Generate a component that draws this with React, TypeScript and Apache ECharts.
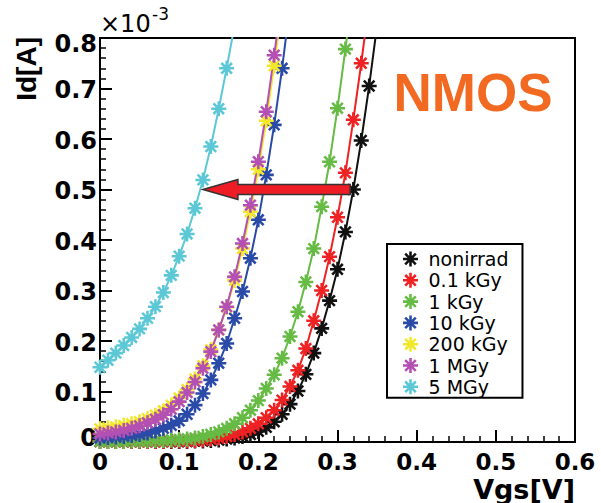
import React, { useEffect, useRef } from 'react';
import * as echarts from 'echarts';

// ---- data ----
const VGS = [
  0.00, 0.01, 0.02, 0.03, 0.04, 0.05, 0.06, 0.07, 0.08, 0.09,
  0.10, 0.11, 0.12, 0.13, 0.14, 0.15, 0.16, 0.17, 0.18, 0.19,
  0.20, 0.21, 0.22, 0.23, 0.24, 0.25, 0.26, 0.27, 0.28, 0.29,
  0.30, 0.31, 0.32, 0.33, 0.34, 0.35,
];

const SERIES_NAMES = ['nonirrad', '0.1 kGy', '1 kGy', '10 kGy', '200 kGy', '1 MGy', '5 MGy'];

const ID_NONIRRAD = [
  0.001, 0.001, 0.001, 0.001, 0.001, 0.001, 0.001, 0.001, 0.001, 0.001,
  0.001, 0.001, 0.002, 0.002, 0.003, 0.004, 0.006, 0.008, 0.011, 0.015,
  0.021, 0.029, 0.040, 0.055, 0.075, 0.101, 0.134, 0.176, 0.225, 0.280,
  0.342, 0.416, 0.500, 0.597, 0.705, 0.825,
];
const ID_01KGY = [
  0.001, 0.001, 0.001, 0.001, 0.001, 0.001, 0.001, 0.001, 0.001, 0.002,
  0.002, 0.002, 0.003, 0.004, 0.006, 0.008, 0.011, 0.015, 0.020, 0.027,
  0.036, 0.048, 0.063, 0.083, 0.110, 0.142, 0.185, 0.240, 0.300, 0.367,
  0.445, 0.533, 0.638, 0.750, 0.872,
];
const ID_1KGY = [
  0.001, 0.001, 0.001, 0.001, 0.002, 0.002, 0.002, 0.003, 0.003, 0.004,
  0.005, 0.006, 0.008, 0.011, 0.015, 0.020, 0.027, 0.036, 0.048, 0.063,
  0.082, 0.106, 0.133, 0.166, 0.209, 0.258, 0.317, 0.383, 0.466, 0.555,
  0.661, 0.778, 0.900,
];
const ID_10KGY = [
  0.008, 0.009, 0.010, 0.011, 0.013, 0.015, 0.018, 0.022, 0.027, 0.033,
  0.042, 0.055, 0.073, 0.096, 0.123, 0.156, 0.195, 0.245, 0.298, 0.364,
  0.440, 0.529, 0.628, 0.740, 0.865,
];
const ID_200KGY = [
  0.026, 0.028, 0.030, 0.033, 0.036, 0.040, 0.046, 0.053, 0.062, 0.073,
  0.087, 0.104, 0.125, 0.151, 0.183, 0.222, 0.267, 0.320, 0.383, 0.456,
  0.540, 0.636, 0.745, 0.865,
];
const ID_1MGY = [
  0.016, 0.018, 0.020, 0.023, 0.027, 0.032, 0.038, 0.045, 0.054, 0.065,
  0.080, 0.098, 0.119, 0.146, 0.179, 0.222, 0.268, 0.327, 0.393, 0.469,
  0.555, 0.654, 0.766, 0.880,
];
const ID_5MGY = [
  0.148, 0.162, 0.176, 0.191, 0.207, 0.224, 0.245, 0.268, 0.296, 0.330,
  0.368, 0.412, 0.463, 0.519, 0.585, 0.660, 0.740, 0.825,
];

const SERIES_VALUES = [ID_NONIRRAD, ID_01KGY, ID_1KGY, ID_10KGY, ID_200KGY, ID_1MGY, ID_5MGY];
const SERIES_COLORS = ['#111111', '#ee2222', '#66bb44', '#2a4aa8', '#f2e82a', '#b450b4', '#5cc8d6'];

const X_MIN = 0, X_MAX = 0.6, X_STEP = 0.1;
const Y_MIN = 0, Y_MAX = 0.8, Y_STEP = 0.1;
const X_TITLE = 'Vgs[V]';
const Y_TITLE = 'Id[A]';
const Y_EXP_BASE = '×10';
const Y_EXP_POW = '-3';
const ANNOTATION = 'NMOS';
const ARROW_FROM = [0.316, 0.5];
const ARROW_TO = [0.13, 0.5];

function asteriskPath(w: number) {
  let d = '';
  for (const deg of [0, 45, 90, 135]) {
    const a = (deg * Math.PI) / 180;
    const c = Math.cos(a), s = Math.sin(a);
    const pts = [[1, w], [-1, w], [-1, -w], [1, -w]].map(([u, v]) => [u * c - v * s, u * s + v * c]);
    d += 'M' + pts.map((p) => p[0].toFixed(3) + ',' + p[1].toFixed(3)).join('L') + 'Z';
  }
  return 'path://' + d;
}

const ASTERISK = asteriskPath(0.17);

export default function App() {
  const ref = useRef<HTMLDivElement>(null);

  useEffect(() => {
    if (!ref.current) return;
    const chart = echarts.init(ref.current, null, { renderer: 'svg' });

    const series = SERIES_NAMES.map((name, i) => ({
      type: 'line',
      name,
      data: SERIES_VALUES[i].map((v, k) => [VGS[k], v]),
      symbol: ASTERISK,
      symbolSize: 15,
      showAllSymbol: true,
      clip: true,
      lineStyle: { width: 2, color: SERIES_COLORS[i] },
      itemStyle: { color: SERIES_COLORS[i] },
      emphasis: { disabled: true },
    }));

    const axisCommon = {
      type: 'value',
      axisLine: { show: true, lineStyle: { color: '#000', width: 2 } },
      axisTick: { show: true, inside: true, length: 12, lineStyle: { color: '#000', width: 2 } },
      minorTick: { show: true, splitNumber: 5, length: 6, lineStyle: { color: '#000', width: 1.5 } },
      splitLine: { show: false },
      minorSplitLine: { show: false },
    };

    const labelFont = { fontFamily: 'DejaVu Sans', fontWeight: 'bold', fontSize: 24, color: '#000' };

    chart.setOption({
      animation: false,
      backgroundColor: '#ffffff',
      grid: { left: 100, top: 38, right: 26, bottom: 61, show: true, borderColor: '#000', borderWidth: 2, backgroundColor: 'transparent' },
      xAxis: {
        ...axisCommon,
        min: X_MIN, max: X_MAX, interval: X_STEP,
        axisLabel: {
          margin: 8,
          ...labelFont,
          fontSize: 23,
          formatter: (v: number) => (v === 0 ? '0' : v.toFixed(1)),
        },
      },
      yAxis: {
        ...axisCommon,
        min: Y_MIN, max: Y_MAX, interval: Y_STEP,
        axisLabel: {
          margin: 3,
          ...labelFont,
          formatter: (v: number) => {
            const t = v === 0 ? '0' : v.toFixed(1);
            if (Math.abs(v - Y_MAX) < 1e-9) return '{top|' + t + '}';
            if (v === 0) return '{z|' + t + '}';
            return '{n|' + t + '}';
          },
          rich: {
            top: { ...labelFont, padding: [12, 0, 0, 0] },
            n: { ...labelFont, padding: [3, 0, 0, 0] },
            z: { ...labelFont, padding: [0, 0, 8, 0] },
          },
        },
      },
      legend: {
        orient: 'vertical',
        left: 387,
        top: 244,
        padding: [5, 14, 1, 16],
        itemWidth: 26,
        itemHeight: 15,
        itemGap: 1.3,
        borderColor: '#000',
        borderWidth: 2,
        backgroundColor: '#fff',
        selectedMode: false,
        icon: ASTERISK,
        textStyle: { fontFamily: 'DejaVu Sans', fontSize: 19, color: '#000', lineHeight: 20 },
        data: SERIES_NAMES,
      },
      series,
    });

    const p1 = chart.convertToPixel({ gridIndex: 0 }, ARROW_FROM) as number[];
    const p2 = chart.convertToPixel({ gridIndex: 0 }, ARROW_TO) as number[];
    const y = p2[1];
    const headLen = 35, headHalf = 10, shaftHalf = 5;
    const arrowPts = [
      [p2[0], y],
      [p2[0] + headLen, y - headHalf],
      [p2[0] + headLen, y - shaftHalf],
      [p1[0], y - shaftHalf],
      [p1[0], y + shaftHalf],
      [p2[0] + headLen, y + shaftHalf],
      [p2[0] + headLen, y + headHalf],
    ];

    chart.setOption({
      graphic: [
        {
          type: 'polygon',
          shape: { points: arrowPts },
          style: { fill: '#ee1c24', stroke: '#333', lineWidth: 1.5 },
          z: 100,
        },
        {
          type: 'text',
          x: 473, y: 92,
          style: {
            text: ANNOTATION, fill: '#f26a22', font: 'bold 53px "Liberation Sans", Arial, sans-serif',
            textAlign: 'center', textVerticalAlign: 'middle',
          },
          z: 100,
        },
        {
          type: 'text',
          x: 575, y: 489,
          style: {
            text: X_TITLE, fill: '#000', font: 'bold 27px "DejaVu Sans", sans-serif',
            textAlign: 'right', textVerticalAlign: 'middle',
          },
        },
        {
          type: 'text',
          x: 26, y: 37,
          rotation: Math.PI / 2,
          style: {
            text: Y_TITLE, fill: '#000', font: 'bold 28px "Liberation Sans", Arial, sans-serif',
            textAlign: 'right', textVerticalAlign: 'middle',
          },
        },
        {
          type: 'text',
          x: 100, y: 24,
          style: {
            text: Y_EXP_BASE, fill: '#000', font: '24px "DejaVu Sans", sans-serif',
            textAlign: 'left', textVerticalAlign: 'middle',
          },
        },
        {
          type: 'text',
          x: 152, y: 14,
          style: {
            text: Y_EXP_POW, fill: '#000', font: '17px "DejaVu Sans", sans-serif',
            textAlign: 'left', textVerticalAlign: 'middle',
          },
        },
      ],
    });

    return () => chart.dispose();
  }, []);

  return <div ref={ref} style={{ position: 'fixed', left: 0, top: 0, width: 601, height: 503 }} />;
}
